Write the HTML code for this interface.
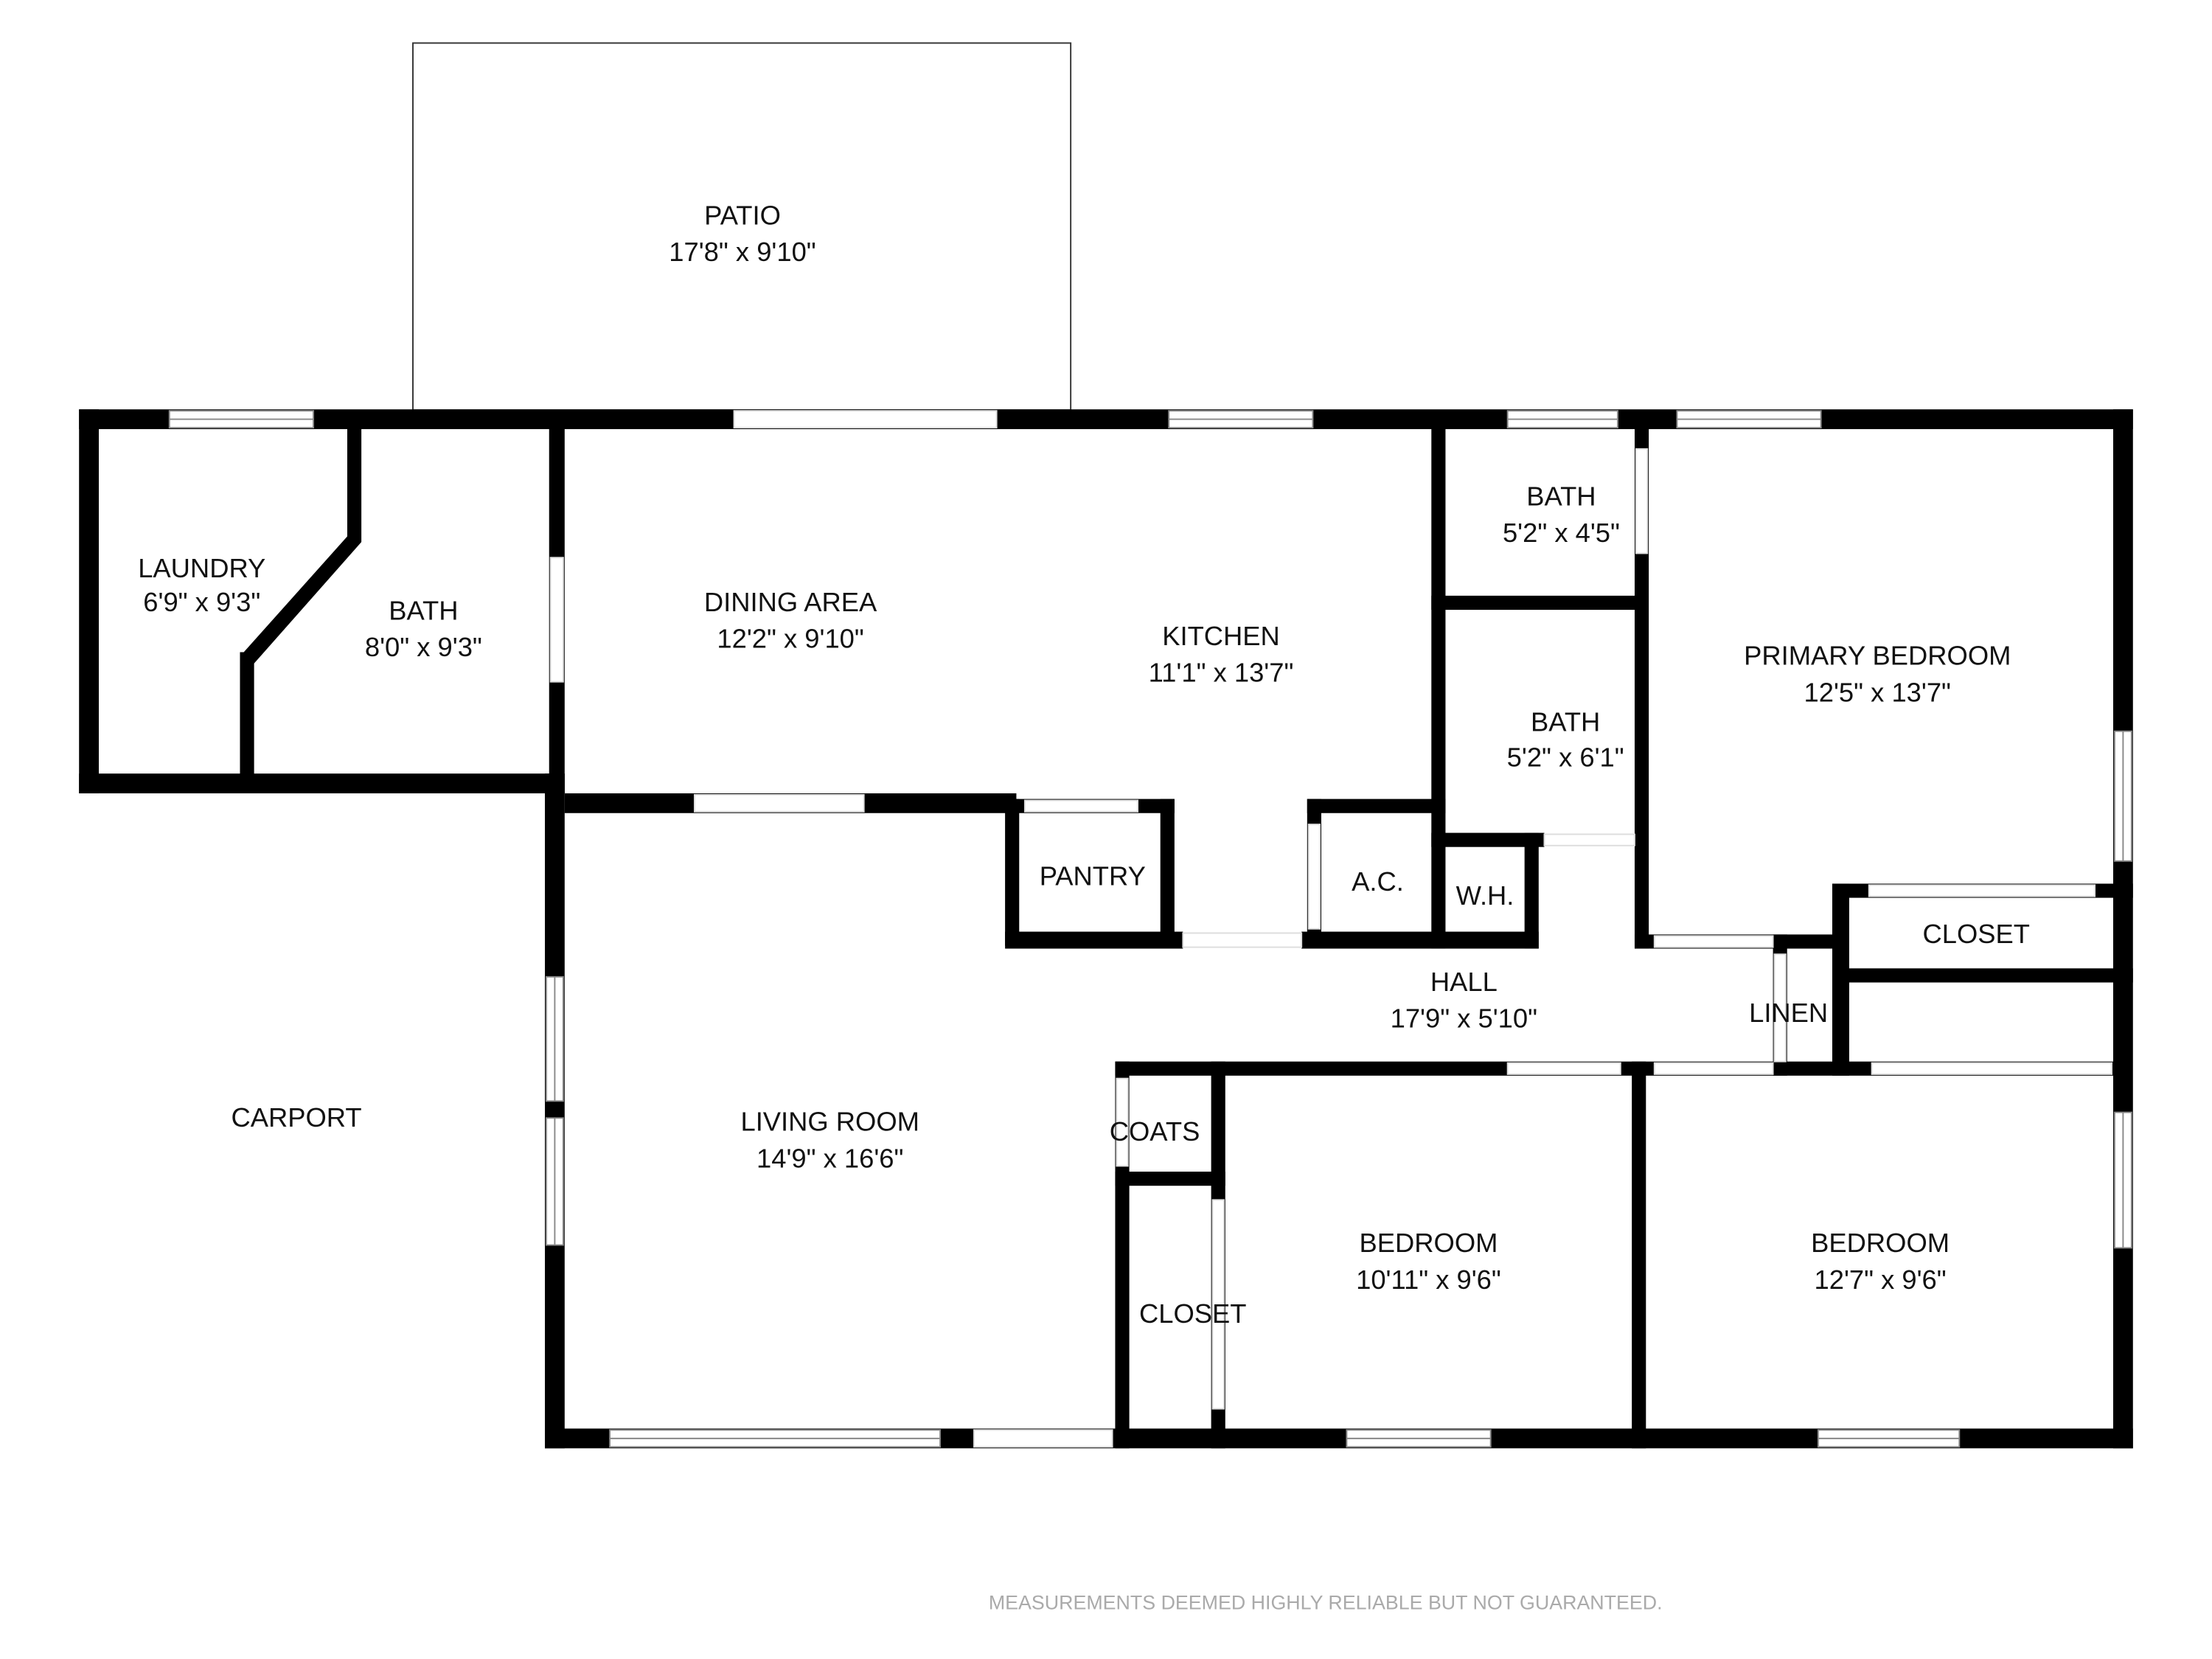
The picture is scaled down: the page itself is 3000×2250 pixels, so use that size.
<!DOCTYPE html>
<html><head><style>html,body{margin:0;padding:0;background:#fff}svg{display:block}text{font-family:"Liberation Sans",sans-serif;fill:#111;font-size:19px;text-anchor:middle}</style></head>
<body>
<svg width="3000" height="2250" viewBox="0 0 1567 1175.25" xmlns="http://www.w3.org/2000/svg">
<rect x="292.5" y="30.5" width="466" height="260" fill="none" stroke="#333" stroke-width="1"/>
<g fill="#000">
<rect x="56" y="290" width="1455" height="14"/>
<rect x="56" y="290" width="14" height="272"/>
<rect x="56" y="548" width="344" height="14"/>
<rect x="386" y="548" width="14" height="478"/>
<rect x="386" y="1012" width="1125" height="14"/>
<rect x="1497" y="290" width="14" height="736"/>
<rect x="246" y="304" width="10" height="80"/>
<polygon points="246,380 256,384 180,470 170,465"/>
<rect x="170" y="462" width="10" height="90"/>
<rect x="389" y="304" width="11" height="258"/>
<rect x="400" y="562" width="320" height="14"/>
<rect x="712" y="566" width="10" height="104"/>
<rect x="822" y="566" width="10" height="104"/>
<rect x="712" y="566" width="120" height="10"/>
<rect x="712" y="660" width="126" height="12"/>
<rect x="1014" y="304" width="10" height="368"/>
<rect x="1014" y="422" width="152" height="10"/>
<rect x="1158" y="304" width="10" height="368"/>
<rect x="1014" y="590" width="80" height="10"/>
<rect x="926" y="566" width="98" height="10"/>
<rect x="926" y="566" width="10" height="104"/>
<rect x="1080" y="590" width="10" height="82"/>
<rect x="922" y="660" width="168" height="12"/>
<rect x="1158" y="662" width="150" height="10"/>
<rect x="1298" y="626" width="12" height="136"/>
<rect x="1298" y="626" width="213" height="10"/>
<rect x="1298" y="686" width="213" height="10"/>
<rect x="1256" y="662" width="10" height="100"/>
<rect x="790" y="752" width="720" height="10"/>
<rect x="790" y="752" width="10" height="274"/>
<rect x="858" y="752" width="10" height="274"/>
<rect x="790" y="830" width="78" height="10"/>
<rect x="1156" y="752" width="10" height="274"/>
</g>
<g fill="#fff" stroke="#888" stroke-width="1">
<rect x="120" y="291" width="102" height="12"/>
<rect x="828" y="291" width="102" height="12"/>
<rect x="1068" y="291" width="78" height="12"/>
<rect x="1188" y="291" width="102" height="12"/>
<rect x="432" y="1013" width="234" height="12"/>
<rect x="954" y="1013" width="102" height="12"/>
<rect x="1288" y="1013" width="100" height="12"/>
<rect x="387" y="692" width="12" height="88"/>
<rect x="387" y="792" width="12" height="90"/>
<rect x="1498" y="518" width="12" height="92"/>
<rect x="1498" y="788" width="12" height="96"/>
</g>
<g stroke="#888" stroke-width="1">
<line x1="120" y1="297" x2="222" y2="297"/><line x1="828" y1="297" x2="930" y2="297"/>
<line x1="1068" y1="297" x2="1146" y2="297"/><line x1="1188" y1="297" x2="1290" y2="297"/>
<line x1="432" y1="1019" x2="666" y2="1019"/><line x1="954" y1="1019" x2="1056" y2="1019"/>
<line x1="1288" y1="1019" x2="1388" y2="1019"/>
<line x1="393" y1="692" x2="393" y2="780"/><line x1="393" y1="792" x2="393" y2="882"/>
<line x1="1504" y1="518" x2="1504" y2="610"/><line x1="1504" y1="788" x2="1504" y2="884"/>
</g>
<g fill="#fff" stroke="#ddd" stroke-width="1">
<rect x="520" y="291" width="186" height="12"/>
<rect x="690" y="1013" width="98" height="12"/>
<rect x="390" y="395" width="9" height="88"/>
<rect x="492" y="563" width="120" height="12"/>
<rect x="726" y="567" width="80" height="8"/>
<rect x="838" y="661" width="84" height="10"/>
<rect x="927" y="584" width="8" height="74"/>
<rect x="1159" y="318" width="8" height="74"/>
<rect x="1094" y="591" width="64" height="8"/>
<rect x="1172" y="663" width="84" height="8"/>
<rect x="1257" y="676" width="8" height="76"/>
<rect x="1324" y="627" width="160" height="8"/>
<rect x="1068" y="753" width="80" height="8"/>
<rect x="1172" y="753" width="84" height="8"/>
<rect x="1326" y="753" width="170" height="8"/>
<rect x="791" y="764" width="8" height="62"/>
<rect x="859" y="850" width="8" height="148"/>
</g>
<text x="526" y="159">PATIO</text><text x="526" y="185">17'8" x 9'10"</text>
<text x="143" y="409">LAUNDRY</text><text x="143" y="433">6'9" x 9'3"</text>
<text x="300" y="439">BATH</text><text x="300" y="465">8'0" x 9'3"</text>
<text x="560" y="433">DINING AREA</text><text x="560" y="459">12'2" x 9'10"</text>
<text x="865" y="457">KITCHEN</text><text x="865" y="483">11'1" x 13'7"</text>
<text x="1106" y="358">BATH</text><text x="1106" y="384">5'2" x 4'5"</text>
<text x="1109" y="518">BATH</text><text x="1109" y="543">5'2" x 6'1"</text>
<text x="1330" y="471">PRIMARY BEDROOM</text><text x="1330" y="497">12'5" x 13'7"</text>
<text x="774" y="627">PANTRY</text>
<text x="976" y="631">A.C.</text>
<text x="1052" y="641">W.H.</text>
<text x="1400" y="668">CLOSET</text>
<text x="1037" y="702">HALL</text><text x="1037" y="728">17'9" x 5'10"</text>
<text x="1267" y="724">LINEN</text>
<text x="210" y="798">CARPORT</text>
<text x="588" y="801">LIVING ROOM</text><text x="588" y="827">14'9" x 16'6"</text>
<text x="818" y="808">COATS</text>
<text x="845" y="937">CLOSET</text>
<text x="1012" y="887">BEDROOM</text><text x="1012" y="913">10'11" x 9'6"</text>
<text x="1332" y="887">BEDROOM</text><text x="1332" y="913">12'7" x 9'6"</text>
<text x="939" y="1140" style="font-size:14px;fill:#aaa">MEASUREMENTS DEEMED HIGHLY RELIABLE BUT NOT GUARANTEED.</text>
</svg>
</body></html>
